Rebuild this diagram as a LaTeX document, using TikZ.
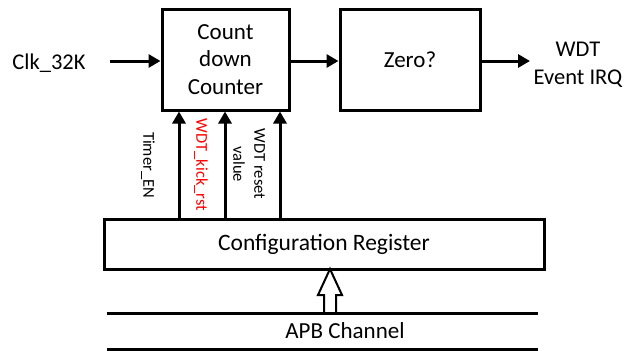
\documentclass[tikz,border=0pt]{standalone}
\usepackage{fontspec}
\setmainfont{Carlito}
\usetikzlibrary{arrows.meta}
\begin{document}
\begin{tikzpicture}[x=1pt, y=-1pt, font=\fontsize{22.5}{27.5}\selectfont, line join=miter, >={Triangle[length=12pt,width=13pt]},
		blk/.style={draw, line width=3pt, inner sep=0pt},
		sig/.style={line width=3pt, ->},
		lbl/.style={font=\fontsize{16.5}{21}\selectfont, rotate=-90, align=center, inner sep=0pt}]
			\useasboundingbox (0,0) rectangle (630,351);
			% Khối
			\node[blk, minimum width=127pt, minimum height=101pt, align=center, font=\fontsize{23}{27.5}\selectfont] (cnt) at (225.5,59.5) {Count\\down\\Counter};
			\node[blk, minimum width=140pt, minimum height=101pt, font=\fontsize{23}{27.5}\selectfont] (zero) at (410,59.5) {Zero?};
			\node[blk, minimum width=440pt, minimum height=50pt, font=\fontsize{23.5}{28}\selectfont] (cfg) at (324,244) {Configuration Register};
			\node (clk) at (49,63) {Clk\_32K};
			\node[align=center] (irq) at (578,65) {WDT\\Event IRQ};
			\node[font=\fontsize{23}{27.5}\selectfont] (apb) at (345,331) {APB Channel};
			\coordinate (clkin) at (110,61);
			\coordinate (irqout) at (530,61);
			\coordinate (tA) at (179,0);
			\coordinate (tB) at (225,0);
			\coordinate (tC) at (280,0);
			% Mũi tên
			\draw[sig] (clkin) -- (clkin -| cnt.west);
			\draw[sig] (cnt.east |- clkin) -- (zero.west |- clkin);
			\draw[sig] (zero.east |- irqout) -- (irqout);
			\draw[sig] (tA |- cfg.north) -- (tA |- cnt.south);
			\draw[sig] (tB |- cfg.north) -- (tB |- cnt.south);
			\draw[sig] (tC |- cfg.north) -- (tC |- cnt.south);
			\node[lbl] (ten) at (148,165) {Timer\_EN};
			\node[lbl, text=red] (kick) at (201,165) {WDT\_kick\_rst};
			\node[lbl] (rst) at (249,164) {WDT reset\\value};
			% APB
			\draw[line width=2pt, fill=white] (324,312) -- (324,295) -- (318,295) -- (330,269) -- (342,295) -- (336,295) -- (336,312);
			\draw[line width=3pt] (107,313) -- (538,313);
			\draw[line width=3pt] (107,349.5) -- (538,349.5);
		\end{tikzpicture}
\end{document}
